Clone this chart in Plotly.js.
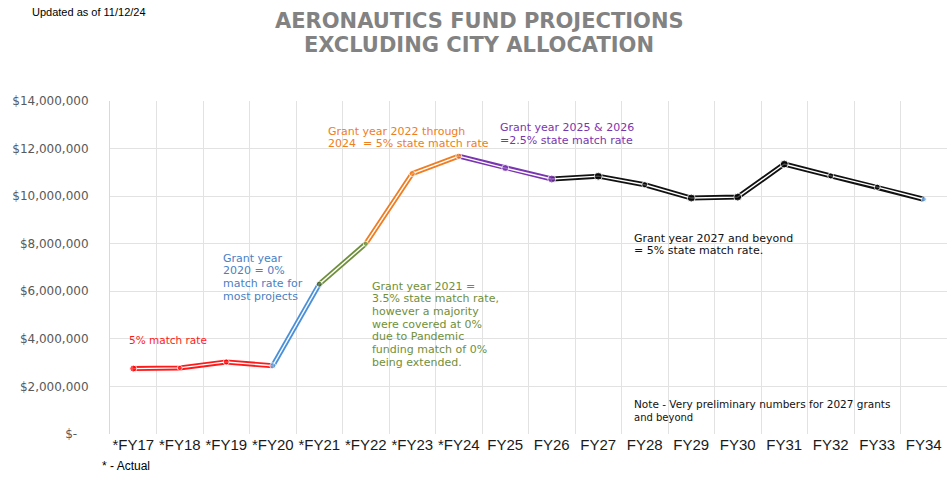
<!DOCTYPE html>
<html>
<head>
<meta charset="utf-8">
<script src="https://cdn.plot.ly/plotly-3.0.1.min.js"></script>
<style>
  html, body { margin: 0; padding: 0; background: #fff; }
  #myChart { width: 947px; height: 477px; }
</style>
</head>
<body>
<div id="myChart"></div>
<script>
// fiscal years, * = actual
var categories = ["*FY17", "*FY18", "*FY19", "*FY20", "*FY21", "*FY22", "*FY23", "*FY24", "FY25",
  "FY26", "FY27", "FY28", "FY29", "FY30", "FY31", "FY32", "FY33", "FY34"];
// fund balance
var fundValues = [2750000, 2780000, 3030000, 2870000, 6300000, 8000000, 10950000, 11680000, 11180000,
  10720000, 10840000, 10480000, 9920000, 9960000, 11350000, 10850000, 10380000, 9870000];
var yTickVals = [0, 2000000, 4000000, 6000000, 8000000, 10000000, 12000000, 14000000];
var yTickText = ["$-\u00a0\u00a0\u00a0", "$2,000,000", "$4,000,000", "$6,000,000", "$8,000,000",
  "$10,000,000", "$12,000,000", "$14,000,000"];

var titleLines = ["AERONAUTICS FUND PROJECTIONS", "EXCLUDING CITY ALLOCATION"];
// note texts
var noteRed = ["5% match rate"];
var noteBlue = ["Grant year", "2020 = 0%", "match rate for", "most projects"];
var noteOrange = ["Grant year 2022 through", "2024  = 5% state match rate"];
var notePurple = ["Grant year 2025 & 2026", "=2.5% state match rate"];
var noteGreen = ["Grant year 2021 =", "3.5% state match rate,", "however a majority",
  "were covered at 0%", "due to Pandemic", "funding match of 0%", "being extended."];
var noteBlack = ["Grant year 2027 and beyond", "= 5% state match rate."];
var notePrelim = ["Note - Very preliminary numbers for 2027 grants", "and beyond"];

// plot box in pixels
var L = 110, T = 101, W = 837, H = 333;
function px(x) { return (x - L) / W; }
function py(y) { return (T + H - y) / H; }

// line pieces, by category index
var segments = [
  { from: 0, to: 3, color: "#ff1a1a" },
  { from: 3, to: 4, color: "#4a90d9" },
  { from: 4, to: 5, color: "#6f8f3a" },
  { from: 5, to: 7, color: "#ef7d22" },
  { from: 7, to: 9, color: "#7a35b0" },
  { from: 9, to: 17, color: "#111111" },
];
var markerColors = ["#ff0000", "#ff0000", "#ff0000", "#5b9bd5", "#375623", "#5e8a2e", "#ef7d22", "#ef7d22",
  "#7a35b0", "#7a35b0", "#000", "#000", "#000", "#000", "#000", "#000", "#000", "#4a8fd9"];
var markerSizes = [7, 5, 6, 6, 6, 5, 6, 6, 7, 8, 8, 6, 8, 8, 8, 6, 6, 5];

var xIdx = categories.map((c, i) => i);
var traces = [];
segments.forEach((s) => {
  var xs = xIdx.slice(s.from, s.to + 1);
  var ys = fundValues.slice(s.from, s.to + 1);
  traces.push({ type: "scatter", mode: "lines", x: xs, y: ys, hoverinfo: "skip",
    line: { color: s.color, width: 5 } });
  traces.push({ type: "scatter", mode: "lines", x: xs, y: ys, hoverinfo: "skip",
    line: { color: "#ffffff", width: 1.4 } });
});
traces.push({ type: "scatter", mode: "markers", x: xIdx, y: fundValues,
  marker: { color: markerColors, size: markerSizes } });

var annotations = [];
function addBlock(lines, x, yTop, color, size, step) {
  lines.forEach((t, i) => {
    annotations.push({ text: t, xref: "paper", yref: "paper", x: px(x), y: py(yTop + i * step),
      xanchor: "left", yanchor: "middle", showarrow: false,
      font: { family: "DejaVu Sans", size: size, color: color } });
  });
}
addBlock(noteRed, 127, 340, "#ff1a1a", 10.5, 12.7);
addBlock(noteBlue, 221, 258, "#4a7fc4", 11, 12.7);
addBlock(noteOrange, 326, 131, "#ef7d22", 11, 12.7);
addBlock(notePurple, 498, 128, "#7a35b0", 11, 12.7);
addBlock(noteGreen, 370, 286, "#6f8f3a", 11, 12.7);
addBlock(noteBlack, 632, 238, "#111111", 11, 13);
annotations.push({ text: notePrelim[0], xref: "paper", yref: "paper", x: px(632), y: py(404),
  xanchor: "left", yanchor: "middle", showarrow: false,
  font: { family: "DejaVu Sans", size: 10.5, color: "#111111" } });
annotations.push({ text: notePrelim[1], xref: "paper", yref: "paper", x: px(632), y: py(417),
  xanchor: "left", yanchor: "middle", showarrow: false,
  font: { family: "DejaVu Sans", size: 10, color: "#111111" } });
annotations.push({ text: "Updated as of 11/12/24", xref: "paper", yref: "paper", x: px(30), y: py(12),
  xanchor: "left", yanchor: "middle", showarrow: false,
  font: { family: "Liberation Sans", size: 11, color: "#000" } });
annotations.push({ text: "* - Actual", xref: "paper", yref: "paper", x: px(100), y: py(466),
  xanchor: "left", yanchor: "middle", showarrow: false,
  font: { family: "Liberation Sans Narrow, Liberation Sans", size: 12, color: "#000" } });
// title, one annotation per line
titleLines.forEach((t, i) => {
  annotations.push({ text: t, xref: "paper", yref: "paper", x: px(479), y: py(21 + i * 24),
    xanchor: "center", yanchor: "middle", showarrow: false,
    font: { family: "DejaVu Sans", size: 21, weight: "bold", color: "#828282" } });
});

var layout = {
  width: 947,
  height: 477,
  margin: { l: L, r: 947 - L - W, t: T, b: 477 - T - H },
  paper_bgcolor: "#fff",
  plot_bgcolor: "#fff",
  showlegend: false,
  xaxis: {
    range: [-0.5, categories.length - 0.5],
    tickmode: "array",
    tickvals: xIdx,
    ticktext: categories,
    showgrid: false,
    zeroline: false,
    showline: false,
    ticks: "",
    tickfont: { family: "Liberation Sans Narrow, Liberation Sans", size: 15, color: "#1a1a1a" },
    minor: {
      tickmode: "array",
      tickvals: categories.map((c, i) => i - 0.5).concat([categories.length - 0.5]),
      showgrid: true,
      gridcolor: "#e2e2e2",
      gridwidth: 1,
      ticks: "",
    },
    fixedrange: true,
  },
  yaxis: {
    range: [0, 14000000],
    tickmode: "array",
    tickvals: yTickVals,
    ticktext: yTickText,
    showgrid: true,
    gridcolor: "#e2e2e2",
    zeroline: false,
    showline: true,
    linecolor: "#d9d9d9",
    linewidth: 1,
    ticks: "",
    ticklabelstandoff: 18,
    tickfont: { family: "DejaVu Sans", size: 12, color: "#595959" },
    fixedrange: true,
  },
  annotations: annotations,
};

Plotly.newPlot("myChart", traces, layout, { displayModeBar: false, staticPlot: true });
</script>
</body>
</html>
